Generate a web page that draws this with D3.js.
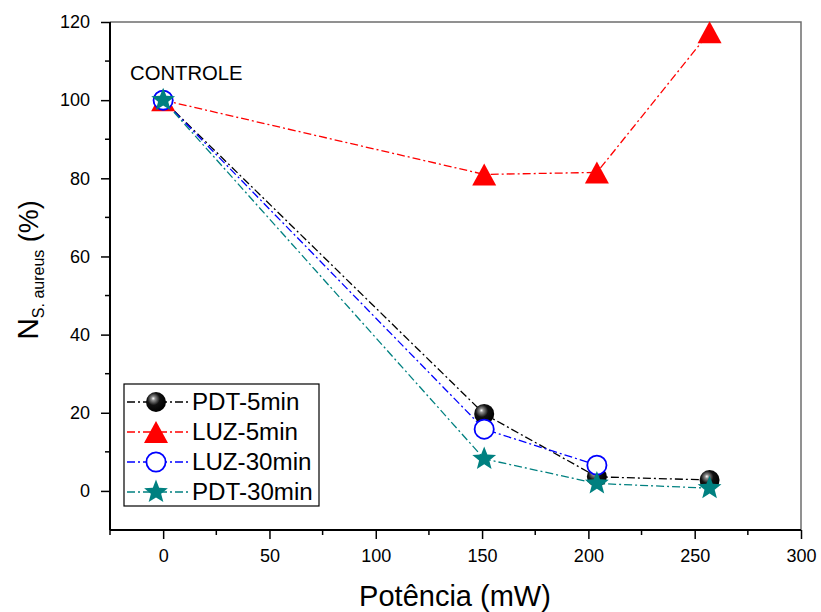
<!DOCTYPE html>
<html>
<head>
<meta charset="utf-8">
<script src="https://cdn.jsdelivr.net/npm/d3@7"></script>
<style>
  html, body { margin: 0; padding: 0; background: #fff; }
  svg { display: block; font-family: "Liberation Sans", Arial, sans-serif; }
</style>
</head>
<body>
<svg id="chart" width="821" height="612"></svg>
<script>
// Power (mW) on the x axis and surviving S. aureus fraction (%) per treatment
const potencia = [0, 151, 204, 257];
const pdt5min  = [100, 19.7, 3.6, 2.8];
const luz5min  = [100, 81.0, 81.5, 117.4];
const luz30min = [100, 15.8, 6.6];
const pdt30min = [100, 8.2, 1.9, 0.7];

const xTicks = [0, 50, 100, 150, 200, 250, 300];
const yTicks = [0, 20, 40, 60, 80, 100, 120];
const seriesNames = ["PDT-5min", "LUZ-5min", "LUZ-30min", "PDT-30min"];

(function () {
const svg = d3.select("#chart");
const plotL = 110, plotR = 801, plotT = 22, plotB = 530;

const x = d3.scaleLinear().domain([-25, 300]).range([plotL, plotR]);
const y = d3.scaleLinear().domain([-10, 120]).range([plotB, plotT]);

// gradient for the shaded sphere marker
const defs = svg.append("defs");
const grad = defs.append("radialGradient").attr("id", "ball")
  .attr("cx", "0.4").attr("cy", "0.38").attr("r", "0.62")
  .attr("fx", "0.36").attr("fy", "0.32");
grad.append("stop").attr("offset", "0").attr("stop-color", "#ffffff");
grad.append("stop").attr("offset", "0.16").attr("stop-color", "#8c8c8c");
grad.append("stop").attr("offset", "0.5").attr("stop-color", "#111111");
grad.append("stop").attr("offset", "1").attr("stop-color", "#000000");

// frame: top and right in grey
svg.append("path")
  .attr("d", `M${plotL},${plotT}H${plotR}V${plotB}`)
  .attr("fill", "none").attr("stroke", "#6e6e6e").attr("stroke-width", 1.5);

// axes
const tickFont = "18px";
const xAxis = d3.axisBottom(x).tickValues(xTicks).tickSize(9).tickPadding(10).tickSizeOuter(0);
const gx = svg.append("g").attr("transform", `translate(0,${plotB})`).call(xAxis);
const yAxis = d3.axisLeft(y).tickValues(yTicks).tickSize(9).tickPadding(11).tickSizeOuter(0);
const gy = svg.append("g").attr("transform", `translate(${plotL},0)`).call(yAxis);
[gx, gy].forEach(g => {
  g.select(".domain").attr("stroke", "#000").attr("stroke-width", 2);
  g.selectAll(".tick line").attr("stroke", "#000").attr("stroke-width", 1.5);
  g.selectAll(".tick text").attr("fill", "#000").style("font-size", tickFont)
    .style("font-family", "'Liberation Sans', Arial, sans-serif");
});
gy.select(".domain").attr("d", `M0,${plotB}V${plotT}`);
gx.select(".domain").attr("d", `M${plotL},0H${plotR}`);

// minor ticks
const xMinor = [-25, 25, 75, 125, 175, 225, 275];
svg.append("g").selectAll("line").data(xMinor).join("line")
  .attr("x1", d => x(d)).attr("x2", d => x(d))
  .attr("y1", plotB).attr("y2", plotB + 5)
  .attr("stroke", "#000").attr("stroke-width", 1.5);
const yMinor = [10, 30, 50, 70, 90, 110];
svg.append("g").selectAll("line").data(yMinor).join("line")
  .attr("x1", plotL - 5).attr("x2", plotL)
  .attr("y1", d => y(d)).attr("y2", d => y(d))
  .attr("stroke", "#000").attr("stroke-width", 1.5);

// marker shapes
function starPath(R, ratio) {
  const pts = [];
  for (let i = 0; i < 10; i++) {
    const r = i % 2 ? R * ratio : R;
    const a = -Math.PI / 2 + i * Math.PI / 5;
    pts.push([r * Math.cos(a), r * Math.sin(a)]);
  }
  return "M" + pts.map(p => p.join(",")).join("L") + "Z";
}
const triPath = "M0,-11L12,11L-12,11Z";

const series = [
  { name: seriesNames[0], xs: potencia, ys: pdt5min, color: "#000000", kind: "ball" },
  { name: seriesNames[1], xs: potencia, ys: luz5min, color: "#ff0000", kind: "tri" },
  { name: seriesNames[2], xs: potencia.slice(0, luz30min.length), ys: luz30min, color: "#0000ff", kind: "ring" },
  { name: seriesNames[3], xs: potencia, ys: pdt30min, color: "#008080", kind: "star" }
];

function drawMarker(g, kind, color) {
  if (kind === "ball") {
    g.append("circle").attr("r", 10).attr("fill", "url(#ball)");
  } else if (kind === "tri") {
    g.append("path").attr("d", triPath).attr("fill", color);
  } else if (kind === "ring") {
    g.append("circle").attr("r", 9.6).attr("fill", "#fff")
      .attr("stroke", color).attr("stroke-width", 1.8);
  } else {
    g.append("path").attr("d", starPath(12.5, 0.43)).attr("fill", color);
  }
}

const dash = "8,3,2,3";
const line = d3.line().x(d => x(d[0])).y(d => y(d[1]));

series.forEach(s => {
  const pts = s.xs.map((v, i) => [v, s.ys[i]]);
  svg.append("path").datum(pts)
    .attr("d", line).attr("fill", "none")
    .attr("stroke", s.color).attr("stroke-width", 1.3)
    .attr("stroke-dasharray", dash);
});
series.forEach(s => {
  s.xs.forEach((v, i) => {
    const g = svg.append("g").attr("transform", `translate(${x(v)},${y(s.ys[i])})`);
    drawMarker(g, s.kind, s.color);
  });
});

// annotation at the control point
svg.append("text").attr("transform", "translate(130,80) scale(1.04,1)")
  .style("font-size", "19.5px").attr("fill", "#000").text("CONTROLE");

// legend
const lg = svg.append("g");
lg.append("rect").attr("x", 124).attr("y", 384).attr("width", 195).attr("height", 122)
  .attr("fill", "#fff").attr("stroke", "#000").attr("stroke-width", 1.2);
series.forEach((s, i) => {
  const cy = 402 + i * 30;
  lg.append("line").attr("x1", 127).attr("x2", 188).attr("y1", cy).attr("y2", cy)
    .attr("stroke", s.color).attr("stroke-width", 1.3).attr("stroke-dasharray", dash);
  const m = lg.append("g").attr("transform", `translate(156,${cy})`);
  drawMarker(m, s.kind, s.color);
  lg.append("text").attr("transform", `translate(192,${cy + 8}) scale(1.05,1)`)
    .style("font-size", "23px").attr("fill", "#000").text(s.name);
});

// axis titles
svg.append("text").attr("x", 455).attr("y", 606).attr("text-anchor", "middle")
  .style("font-size", "29px").attr("fill", "#000").text("Potência (mW)");

const yt = svg.append("text")
  .attr("transform", "translate(38,270) rotate(-90)")
  .attr("text-anchor", "middle").attr("fill", "#000");
yt.append("tspan").style("font-size", "30px").text("N");
yt.append("tspan").style("font-size", "16px").attr("dy", 6).text("S. aureus");
yt.append("tspan").style("font-size", "27px").attr("dy", -6).text(" (%)");
})();
</script>
</body>
</html>
